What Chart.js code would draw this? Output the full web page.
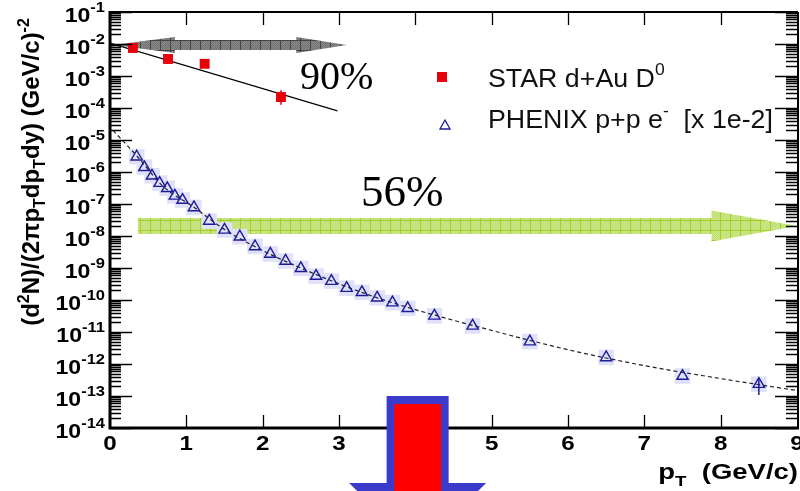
<!DOCTYPE html>
<html>
<head>
<meta charset="utf-8">
<script src="https://cdn.jsdelivr.net/npm/chart.js@4.4.0/dist/chart.umd.min.js"></script>
<style>
  body { margin: 0; background: #fff; }
  canvas { display: block; }
</style>
</head>
<body>
<canvas id="spectrum" width="800" height="491"></canvas>
<script>
// STAR d+Au D0 yield
const starPt = [0.3, 0.76, 1.24, 2.24]
const starYield = [7.5e-3, 3.4e-3, 2.4e-3, 2.2e-4]
const starErrLo = [6.6e-3, 2.9e-3, 2.1e-3, 1.26e-4]
const starErrHi = [8.5e-3, 4.0e-3, 2.8e-3, 3.6e-4]
const starFitPt = [0, 2.98]
const starFitYield = [1.07e-2, 8.1e-5]

// PHENIX p+p non-photonic electrons, scaled by 1e-2
const phenixPt = [0.35, 0.45, 0.55, 0.65, 0.75, 0.85, 0.95, 1.1, 1.3, 1.5,
                  1.7, 1.9, 2.1, 2.3, 2.5, 2.7, 2.9, 3.1, 3.3, 3.5,
                  3.7, 3.9, 4.25, 4.75, 5.5, 6.5, 7.5, 8.5]
const phenixYield = [3.0e-6, 1.4e-6, 7.6e-7, 4.5e-7, 3.1e-7, 1.8e-7, 1.33e-7, 7.8e-8, 2.95e-8, 1.55e-8,
                     9.5e-9, 4.7e-9, 2.75e-9, 1.66e-9, 9.8e-10, 5.6e-10, 3.9e-10, 2.35e-10, 1.74e-10, 1.17e-10,
                     8.3e-11, 5.5e-11, 3.2e-11, 1.55e-11, 5.0e-12, 1.6e-12, 4.2e-13, 2.35e-13]
const phenixErrLo = [null, null, null, null, null, null, null, null, null, null,
                     null, null, null, null, null, null, null, null, null, null,
                     null, null, null, null, null, null, null, 1.07e-13]
const phenixErrHi = [null, null, null, null, null, null, null, null, null, null,
                     null, null, null, null, null, null, null, null, null, null,
                     null, null, null, null, null, null, null, 3.6e-13]
const phenixFitPt = [0.04, 0.35, 0.7, 1.1, 1.5, 2.0, 2.5, 3.0, 3.5, 4.0, 5.0, 6.0, 7.0, 8.0, 9.0]
const phenixFitYield = [2.0e-5, 3.2e-6, 3.5e-7, 7.9e-8, 1.6e-8, 3.5e-9, 1.0e-9, 3.2e-10, 1.17e-10, 5.0e-11,
                        1.12e-11, 2.8e-12, 8.9e-13, 3.5e-13, 1.48e-13]

// axis ticks
const xTickValues = [0, 1, 2, 3, 4, 5, 6, 7, 8, 9]
const yTickPowers = [-1, -2, -3, -4, -5, -6, -7, -8, -9, -10, -11, -12, -13, -14]

// overlaid arrows, in data units
const grayArrow = { tipL: 0.04, baseL: 0.85, baseR: 2.44, tipR: 3.1, y: 9.3e-3 }
const greenArrow = { start: 0.365, base: 7.88, tip: 9.0, y: 2.05e-8 }
const downArrow = { x: 4.03, top: 1e-13 }

const SANS = '"Liberation Sans", Arial, sans-serif'
const SERIF = '"Liberation Serif", "Times New Roman", serif'

const pts = (xs, ys) => xs.map((x, i) => ({ x: x, y: ys[i] }))

function richWidth(ctx, parts, weight) {
  let w = 0
  for (const p of parts) {
    ctx.font = `${weight} ${p.size}px ${SANS}`
    w += ctx.measureText(p.text).width
  }
  return w
}

// text runs with super/subscripts; sx stretches the run horizontally
function drawRich(ctx, parts, x, y, align, weight, sx = 1) {
  const w = richWidth(ctx, parts, weight) * sx
  let cx = align === 'right' ? x - w : align === 'center' ? x - w / 2 : x
  ctx.save()
  ctx.translate(cx, y)
  ctx.scale(sx, 1)
  ctx.textAlign = 'left'
  ctx.textBaseline = 'alphabetic'
  let off = 0
  for (const p of parts) {
    ctx.font = `${weight} ${p.size}px ${SANS}`
    ctx.fillText(p.text, off, p.dy || 0)
    off += ctx.measureText(p.text).width
  }
  ctx.restore()
}

function hatch(ctx, fill, line) {
  const c = document.createElement('canvas')
  c.width = 10
  c.height = 10
  const g = c.getContext('2d')
  g.fillStyle = fill
  g.fillRect(0, 0, 10, 10)
  g.globalAlpha = 0.35
  g.fillStyle = line
  for (let i = 0; i < 10; i++)
    for (let j = i % 2; j < 10; j += 2) g.fillRect(i, j, 1, 1)
  g.globalAlpha = 1
  g.strokeStyle = line
  g.lineWidth = 1
  g.beginPath()
  g.moveTo(0.5, 0); g.lineTo(0.5, 10)
  g.moveTo(0, 0.5); g.lineTo(10, 0.5)
  g.stroke()
  return ctx.createPattern(c, 'repeat')
}

function poly(ctx, p) {
  ctx.beginPath()
  ctx.moveTo(p[0][0], p[0][1])
  for (let i = 1; i < p.length; i++) ctx.lineTo(p[i][0], p[i][1])
  ctx.closePath()
}

const rootStyle = {
  id: 'rootStyle',
  beforeDatasetsDraw(chart) {
    const { ctx, scales: { x, y } } = chart
    ctx.save()
    // green one-sided arrow
    let yc = y.getPixelForValue(greenArrow.y)
    let x0 = x.getPixelForValue(greenArrow.start)
    let xb = x.getPixelForValue(greenArrow.base)
    let xt = x.getPixelForValue(greenArrow.tip)
    poly(ctx, [[x0, yc - 8], [xb, yc - 8], [xb, yc - 15.5], [xt, yc], [xb, yc + 15.5], [xb, yc + 8], [x0, yc + 8]])
    ctx.fillStyle = hatch(ctx, '#cde88e', '#a3cf2e')
    ctx.fill()

    // gray two-sided arrow
    yc = y.getPixelForValue(grayArrow.y)
    const tl = x.getPixelForValue(grayArrow.tipL)
    const bl = x.getPixelForValue(grayArrow.baseL)
    const br = x.getPixelForValue(grayArrow.baseR)
    const tr = x.getPixelForValue(grayArrow.tipR)
    poly(ctx, [[tl, yc], [bl, yc - 8], [bl, yc - 5], [br, yc - 5], [br, yc - 8], [tr, yc],
               [br, yc + 8], [br, yc + 5], [bl, yc + 5], [bl, yc + 8]])
    ctx.fillStyle = hatch(ctx, '#8a8a8a', '#444444')
    ctx.fill()
    ctx.restore()
  },
  afterDatasetsDraw(chart) {
    const { ctx, chartArea: a, scales: { x, y } } = chart
    ctx.save()
    ctx.strokeStyle = '#000'
    ctx.fillStyle = '#000'

    // error bars
    ctx.lineWidth = 1.5
    ctx.beginPath()
    starPt.forEach((p, i) => {
      const px = x.getPixelForValue(p)
      ctx.moveTo(px, y.getPixelForValue(starErrLo[i]))
      ctx.lineTo(px, y.getPixelForValue(starErrHi[i]))
    })
    ctx.strokeStyle = '#e8000b'
    ctx.stroke()
    ctx.beginPath()
    phenixPt.forEach((p, i) => {
      if (phenixErrLo[i] == null) return
      const px = x.getPixelForValue(p)
      ctx.moveTo(px, y.getPixelForValue(phenixErrLo[i]))
      ctx.lineTo(px, y.getPixelForValue(phenixErrHi[i]))
    })
    ctx.strokeStyle = '#1c1c96'
    ctx.stroke()
    ctx.strokeStyle = '#000'

    // frame
    ctx.lineWidth = 2
    ctx.beginPath()
    ctx.moveTo(a.left, a.top); ctx.lineTo(a.right + 1, a.top)
    ctx.moveTo(a.right + 1, a.top); ctx.lineTo(a.right + 1, a.bottom)
    ctx.stroke()
    ctx.lineWidth = 3
    ctx.beginPath()
    ctx.moveTo(a.left, a.top - 1); ctx.lineTo(a.left, a.bottom + 1.5)
    ctx.moveTo(a.left - 1.5, a.bottom); ctx.lineTo(a.right + 2, a.bottom)
    ctx.stroke()

    // y ticks, major and minor, on both sides
    ctx.lineWidth = 1.3
    ctx.beginPath()
    for (const pw of yTickPowers) {
      const py = Math.round(y.getPixelForValue(Math.pow(10, pw))) + 0.5
      ctx.moveTo(a.left, py); ctx.lineTo(a.left + 22, py)
      ctx.moveTo(a.right, py); ctx.lineTo(a.right - 22, py)
      if (pw === -1) continue
      for (let m = 2; m <= 9; m++) {
        const my = Math.round(y.getPixelForValue(m * Math.pow(10, pw))) + 0.5
        ctx.moveTo(a.left, my); ctx.lineTo(a.left + 11, my)
        ctx.moveTo(a.right, my); ctx.lineTo(a.right - 11, my)
      }
    }
    // x ticks, bottom and top
    for (const v of xTickValues) {
      if (v === 0 || v === 9) continue
      const px = Math.round(x.getPixelForValue(v)) + 0.5
      ctx.moveTo(px, a.bottom); ctx.lineTo(px, a.bottom - 13)
      ctx.moveTo(px, a.top); ctx.lineTo(px, a.top + 13)
    }
    ctx.stroke()

    // tick labels
    for (const pw of yTickPowers) {
      const py = y.getPixelForValue(Math.pow(10, pw))
      drawRich(ctx, [{ text: '10', size: 21 }, { text: String(pw), size: 15, dy: -10 }],
               a.left - 5, py + 10, 'right', 'bold', 1.1)
    }
    for (const v of xTickValues) {
      drawRich(ctx, [{ text: String(v), size: 21 }], x.getPixelForValue(v), a.bottom + 22, 'center', 'bold', 1.15)
    }

    // axis titles
    drawRich(ctx, [{ text: 'p', size: 22 }, { text: 'T', size: 15, dy: 7 }, { text: '  (GeV/c)', size: 22 }],
             a.right + 1, a.bottom + 51, 'right', 'bold', 1.25)
    ctx.save()
    ctx.translate(39, 172)
    ctx.rotate(-Math.PI / 2)
    drawRich(ctx, [
      { text: '(d', size: 24 }, { text: '2', size: 16, dy: -10 }, { text: 'N)/(2\u03c0p', size: 24 },
      { text: 'T', size: 16, dy: 6 }, { text: 'dp', size: 24 }, { text: 'T', size: 16, dy: 6 },
      { text: 'dy) (GeV/c)', size: 24 }, { text: '-2', size: 16, dy: -10 }
    ], 0, 0, 'center', 'bold')
    ctx.restore()
    ctx.restore()
  },
  afterDraw(chart) {
    const { ctx, scales: { x, y } } = chart
    ctx.save()

    // legend
    const star = chart.data.datasets[0]
    const phenix = chart.data.datasets[1]
    ctx.fillStyle = star.backgroundColor
    ctx.fillRect(437, 72, 10, 10)
    ctx.strokeStyle = phenix.borderColor
    ctx.lineWidth = 1.3
    poly(ctx, [[445, 120], [450, 129], [440, 129]])
    ctx.stroke()
    ctx.fillStyle = '#111'
    drawRich(ctx, [{ text: 'STAR d+Au D', size: 26 }, { text: '0', size: 17, dy: -12 }], 488, 87, 'left', 'normal', 1.03)
    drawRich(ctx, [{ text: 'PHENIX p+p e', size: 26 }, { text: '-', size: 17, dy: -12 },
                   { text: '  [x 1e-2]', size: 26 }], 488, 128, 'left', 'normal', 1.03)

    // fractions
    ctx.fillStyle = '#000'
    ctx.textAlign = 'left'
    ctx.textBaseline = 'alphabetic'
    ctx.font = `40px ${SERIF}`
    ctx.fillText('90%', 300, 89)
    ctx.font = `45px ${SERIF}`
    ctx.fillText('56%', 361, 206)

    // downward block arrow
    const cx = x.getPixelForValue(downArrow.x)
    const top = y.getPixelForValue(downArrow.top)
    poly(ctx, [[cx - 31, top], [cx + 31, top], [cx + 31, top + 87], [cx + 68.5, top + 87],
               [cx, top + 155], [cx - 68.5, top + 87], [cx - 31, top + 87]])
    ctx.fillStyle = '#3a3acb'
    ctx.fill()
    ctx.fillStyle = '#ff0000'
    ctx.fillRect(cx - 23.5, top + 8, 47, 200)
    ctx.restore()
  }
}

new Chart(document.getElementById('spectrum'), {
  type: 'scatter',
  data: {
    datasets: [
      {
        label: 'STAR d+Au D0',
        data: pts(starPt, starYield),
        pointStyle: 'rect',
        pointRadius: 7,
        backgroundColor: '#e8000b',
        borderColor: '#e8000b',
        borderWidth: 0,
        order: 1
      },
      {
        label: 'PHENIX p+p e- [x 1e-2]',
        data: pts(phenixPt, phenixYield),
        pointStyle: 'triangle',
        pointRadius: 6.5,
        backgroundColor: 'rgba(0,0,0,0)',
        borderColor: '#1c1c96',
        borderWidth: 1.4,
        order: 1
      },
      {
        label: 'STAR fit',
        data: pts(starFitPt, starFitYield),
        showLine: true,
        borderColor: '#000',
        borderWidth: 1.2,
        pointRadius: 0,
        order: 3
      },
      {
        label: 'PHENIX fit',
        data: pts(phenixFitPt, phenixFitYield),
        showLine: true,
        borderColor: '#222',
        borderWidth: 1.2,
        borderDash: [4, 3],
        cubicInterpolationMode: 'monotone',
        pointRadius: 0,
        order: 3
      },
      {
        label: 'PHENIX syst',
        data: pts(phenixPt, phenixYield),
        pointStyle: 'rect',
        pointRadius: 11,
        backgroundColor: '#e0e0fa',
        borderWidth: 0,
        order: 5
      }
    ]
  },
  options: {
    responsive: false,
    animation: false,
    devicePixelRatio: 1,
    events: [],
    layout: { autoPadding: false, padding: { left: 110, top: 12, right: 3, bottom: 63 } },
    plugins: { legend: { display: false }, tooltip: { enabled: false } },
    scales: {
      x: { type: 'linear', min: 0, max: 9, display: false },
      y: { type: 'logarithmic', min: 1e-14, max: 1e-1, display: false }
    }
  },
  plugins: [rootStyle]
})
</script>
</body>
</html>
